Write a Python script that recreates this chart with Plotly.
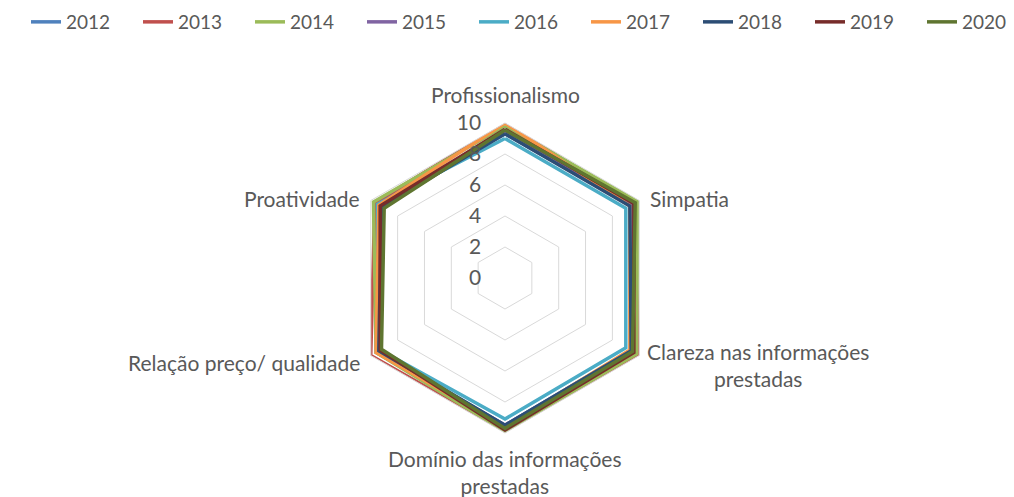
import math
import plotly.graph_objects as go

categories = ["Profissionalismo", "Simpatia", "Clareza nas informações<br>prestadas",
              "Domínio das informações<br>prestadas", "Relação preço/ qualidade", "Proatividade"]
years = ["2012", "2013", "2014", "2015", "2016", "2017", "2018", "2019", "2020"]
v2012 = [9.3, 9.4, 9.4, 9.5, 9.6, 9.6]
v2013 = [10.0, 9.6, 10.0, 9.9, 10.0, 9.7]
v2014 = [9.8, 9.9, 9.8, 9.9, 9.6, 9.8]
v2015 = [9.4, 9.5, 9.5, 9.5, 9.5, 9.4]
v2016 = [9.0, 9.0, 9.0, 9.1, 9.3, 9.5]
v2017 = [10.0, 9.3, 9.3, 9.6, 9.6, 9.4]
v2018 = [9.3, 9.3, 9.4, 9.5, 9.4, 9.2]
v2019 = [9.6, 9.6, 9.6, 9.8, 9.3, 9.3]
v2020 = [9.55, 9.7, 9.5, 9.7, 9.2, 9.0]
series = [v2012, v2013, v2014, v2015, v2016, v2017, v2018, v2019, v2020]
colors = ["#4F81BD", "#C0504D", "#9BBB59", "#8064A2", "#4BACC6",
          "#F79646", "#2C4D75", "#772C2A", "#5F7530"]
tick_vals = [0, 2, 4, 6, 8, 10]

FONT = "Lato, Open Sans, sans-serif"
GRAY = "#595959"

fig = go.Figure()
for name, vals, col in zip(years, series, colors):
    fig.add_trace(go.Scatterpolar(
        r=vals + vals[:1], theta=categories + categories[:1], name=name,
        mode="lines", line=dict(color=col, width=3.5)))

W, H = 1014, 497
cx, cy, R = 505, 278, 155

# category labels placed just outside each hexagon vertex (layout only)
label_style = [  # (dx, dy, xanchor, yanchor)
    (0, -14, "center", "bottom"),
    (9, -2, "left", "middle"),
    (6, 9, "left", "middle"),
    (0, 11, "center", "top"),
    (-9, 7, "right", "middle"),
    (-9, -2, "right", "middle"),
]
annotations = []
n = len(categories)
for i, (cat, (dx, dy, xa, ya)) in enumerate(zip(categories, label_style)):
    ang = math.radians(90 - 360 * i / n)
    px = cx + R * math.cos(ang) + dx
    py = cy - R * math.sin(ang) + dy
    annotations.append(dict(text=cat, x=px / W, y=1 - py / H, xref="paper", yref="paper",
                            xanchor=xa, yanchor=ya, align="center", showarrow=False,
                            font=dict(family=FONT, size=21, color=GRAY)))

fig.update_layout(
    width=W, height=H,
    margin=dict(l=0, r=0, t=0, b=0, autoexpand=False),
    paper_bgcolor="white", plot_bgcolor="white",
    font=dict(family=FONT, size=19, color=GRAY),
    legend=dict(orientation="h", x=26 / W, y=1 - 3 / H, xanchor="left", yanchor="top",
                font=dict(family=FONT, size=19, color=GRAY),
                entrywidth=67, entrywidthmode="pixels", itemwidth=30),
    annotations=annotations,
    polar=dict(
        domain=dict(x=[(cx - R) / W, (cx + R) / W], y=[(H - cy - R) / H, (H - cy + R) / H]),
        bgcolor="white",
        gridshape="linear",
        angularaxis=dict(direction="clockwise", rotation=90, showgrid=False,
                         showline=True, linecolor="#D9D9D9", linewidth=1,
                         ticks="", showticklabels=False),
        radialaxis=dict(range=[0, 10], tickvals=tick_vals, angle=90, tickangle=90,
                        showline=False, gridcolor="#D9D9D9", gridwidth=1,
                        ticks="outside", ticklen=16, tickcolor="rgba(0,0,0,0)",
                        side="counterclockwise",
                        tickfont=dict(family=FONT, size=21, color=GRAY)),
    ),
)
fig.write_html("out.html", config={"displayModeBar": False},
               post_script="document.body.style.margin='0';")
